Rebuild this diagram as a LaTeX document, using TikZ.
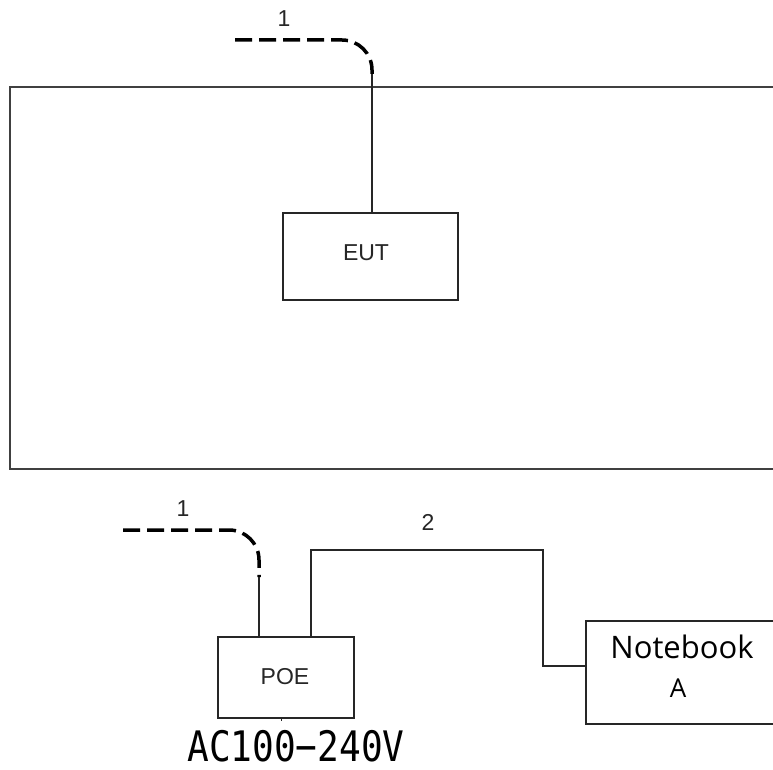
\documentclass[tikz,border=0pt]{standalone}
\usepackage{fontspec}
\setmainfont{Liberation Sans}
\newfontfamily\nbfont{Open Sans}
\newfontfamily\acfont[FakeStretch=0.86]{DejaVu Sans Mono}
\begin{document}
\begin{tikzpicture}[x=1pt,y=-1pt,
  box/.style={draw=black!85,line width=1.5pt,inner sep=0pt,anchor=north west},
  wire/.style={draw=black!85,line width=1.5pt},
  cable/.style={draw=black,line width=3.5pt,dash pattern=on 17pt off 7pt,rounded corners=30pt},
  lbl/.style={font=\fontsize{23}{25}\selectfont,text=black!85,inner sep=0pt}]
\useasboundingbox (0,0) rectangle (773,770);
\fill[white] (0,0) rectangle (773,770);
% chamber
\draw[draw=black!75,line width=2pt] (790,87) -- (10,87) -- (10,469) -- (790,469);
% EUT
\node[box,minimum width=175pt,minimum height=87pt] (eut) at (282,212) {};
\node[lbl] at (366,253) {EUT};
\coordinate (c1s) at (235,40);
\coordinate (c1b) at (372,74);
\draw[cable] (c1s) -- (372,40) -- (c1b);
\draw[wire] (c1b) -- (c1b |- eut.north);
\node[lbl] (l1a) at (284,19) {1};
% POE
\node[box,minimum width=136pt,minimum height=81pt] (poe) at (217,636) {};
\node[lbl] at (285,677) {POE};
\coordinate (c2s) at (123,530);
\coordinate (c2b) at (259,577);
\draw[cable] (c2s) -- (259,530) -- (c2b);
\draw[wire] (c2b) -- (c2b |- poe.north);
\node[lbl] (l1b) at (183,509) {1};
% Notebook
\node[box,minimum width=210pt,minimum height=103pt] (nb) at (585,620) {};
\node[font=\nbfont\fontsize{31}{33}\selectfont,inner sep=0pt] at (682,647) {Notebook};
\node[font=\nbfont\fontsize{26}{28}\selectfont,inner sep=0pt] at (678,688) {A};
\coordinate (p2) at (311,636);
\draw[wire] (p2) -- (311,550) -- (543,550) -- (543,666) -- (nb.west |- 0,666);
\node[lbl] (l2) at (428,522) {2};
% mains
\draw[wire,line width=1pt] (281,717) -- (281,721);
\node[font=\acfont\fontsize{42}{44}\selectfont,inner sep=0pt] (ac) at (296,746) {AC100−240V};
\end{tikzpicture}
\end{document}
